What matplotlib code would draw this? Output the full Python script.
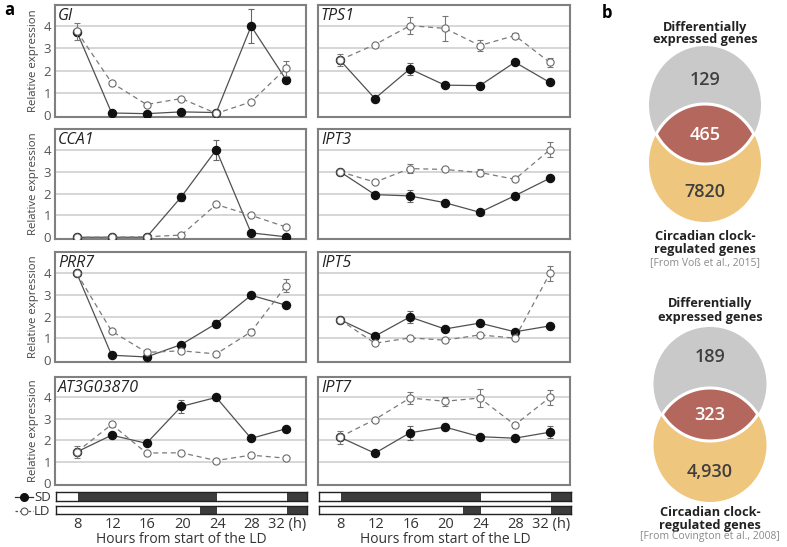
import numpy as np
import matplotlib
matplotlib.use('Agg')
import matplotlib.pyplot as plt
from matplotlib.patches import Ellipse, Polygon

plt.rcParams['font.family'] = ['Open Sans', 'DejaVu Sans']

hours = [8, 12, 16, 20, 24, 28, 32]
hour_labels = ['8', '12', '16', '20', '24', '28', '32 (h)']

# SD (filled) and LD (open) relative expression, with error bars
gi_sd = [3.75, 0.10, 0.07, 0.15, 0.12, 4.00, 1.60]
gi_sd_err = [0.05, 0.05, 0.05, 0.05, 0.05, 0.75, 0.10]
gi_ld = [3.77, 1.46, 0.48, 0.75, 0.08, 0.60, 2.10]
gi_ld_err = [0.38, 0.05, 0.05, 0.05, 0.05, 0.05, 0.35]

tps1_sd = [2.48, 0.75, 2.08, 1.35, 1.33, 2.38, 1.47]
tps1_sd_err = [0.05, 0.05, 0.28, 0.05, 0.05, 0.05, 0.08]
tps1_ld = [2.48, 3.17, 4.02, 3.90, 3.13, 3.58, 2.37]
tps1_ld_err = [0.27, 0.05, 0.38, 0.57, 0.26, 0.10, 0.22]

cca1_sd = [0.0, 0.0, 0.0, 1.85, 4.00, 0.20, 0.02]
cca1_sd_err = [0.02, 0.02, 0.02, 0.18, 0.45, 0.05, 0.03]
cca1_ld = [0.0, 0.0, 0.02, 0.10, 1.50, 1.00, 0.47]
cca1_ld_err = [0.02, 0.02, 0.02, 0.05, 0.10, 0.05, 0.06]

ipt3_sd = [3.00, 1.95, 1.89, 1.58, 1.14, 1.90, 2.70]
ipt3_sd_err = [0.05, 0.05, 0.27, 0.05, 0.05, 0.05, 0.05]
ipt3_ld = [3.00, 2.52, 3.14, 3.10, 2.96, 2.65, 4.00]
ipt3_ld_err = [0.12, 0.05, 0.20, 0.08, 0.15, 0.08, 0.35]

prr7_sd = [3.98, 0.23, 0.15, 0.72, 1.68, 2.97, 2.52]
prr7_sd_err = [0.05, 0.05, 0.05, 0.08, 0.15, 0.07, 0.05]
prr7_ld = [3.98, 1.33, 0.36, 0.43, 0.29, 1.30, 3.40]
prr7_ld_err = [0.05, 0.05, 0.05, 0.05, 0.05, 0.12, 0.30]

ipt5_sd = [1.86, 1.10, 1.98, 1.43, 1.70, 1.30, 1.57]
ipt5_sd_err = [0.05, 0.05, 0.26, 0.05, 0.05, 0.05, 0.05]
ipt5_ld = [1.86, 0.78, 1.02, 0.92, 1.16, 1.01, 3.97]
ipt5_ld_err = [0.06, 0.06, 0.06, 0.08, 0.08, 0.06, 0.33]

at3g_sd = [1.46, 2.24, 1.86, 3.58, 4.00, 2.09, 2.54]
at3g_sd_err = [0.05, 0.05, 0.05, 0.30, 0.05, 0.05, 0.05]
at3g_ld = [1.46, 2.74, 1.41, 1.42, 1.06, 1.31, 1.17]
at3g_ld_err = [0.27, 0.10, 0.05, 0.05, 0.05, 0.05, 0.05]

ipt7_sd = [2.15, 1.40, 2.35, 2.62, 2.17, 2.10, 2.38]
ipt7_sd_err = [0.05, 0.05, 0.32, 0.15, 0.05, 0.05, 0.28]
ipt7_ld = [2.15, 2.97, 3.97, 3.82, 3.97, 2.72, 4.00]
ipt7_ld_err = [0.30, 0.05, 0.28, 0.20, 0.42, 0.08, 0.36]

# light / dark schedule (dark intervals, hours)
sd_dark = [(8, 24), (32, 40)]
ld_dark = [(22, 24), (32, 40)]

# Venn counts
venn1_counts = [129, 465, 7820]
venn1_source = '[From Voß et al., 2015]'
venn2_counts = ['189', '323', '4,930']
venn2_source = '[From Covington et al., 2008]'

W, H = 787, 547
fig = plt.figure(figsize=(W / 100, H / 100), dpi=100)


def px_axes(x0, y0, x1, y1):
    return fig.add_axes([x0 / W, 1 - y1 / H, (x1 - x0) / W, (y1 - y0) / H])


panels = [
    ('GI', gi_sd, gi_sd_err, gi_ld, gi_ld_err, 0, 0),
    ('TPS1', tps1_sd, tps1_sd_err, tps1_ld, tps1_ld_err, 0, 1),
    ('CCA1', cca1_sd, cca1_sd_err, cca1_ld, cca1_ld_err, 1, 0),
    ('IPT3', ipt3_sd, ipt3_sd_err, ipt3_ld, ipt3_ld_err, 1, 1),
    ('PRR7', prr7_sd, prr7_sd_err, prr7_ld, prr7_ld_err, 2, 0),
    ('IPT5', ipt5_sd, ipt5_sd_err, ipt5_ld, ipt5_ld_err, 2, 1),
    ('AT3G03870', at3g_sd, at3g_sd_err, at3g_ld, at3g_ld_err, 3, 0),
    ('IPT7', ipt7_sd, ipt7_sd_err, ipt7_ld, ipt7_ld_err, 3, 1),
]
rows = [(5, 117), (129, 239), (252, 362), (377, 485)]
cols = [(55, 306), (318, 570)]
xlim = (5.5, 34.3)
box_col = '#808080'

for name, sd, sd_err, ld, ld_err, r, c in panels:
    ax = px_axes(cols[c][0], rows[r][0], cols[c][1], rows[r][1])
    ax.set_xlim(*xlim)
    ax.set_ylim(-0.08, 4.95)
    for y in [1, 2, 3, 4]:
        ax.axhline(y, color='#cccccc', lw=1.1, zorder=0)
    ax.errorbar(hours, sd, yerr=sd_err, color='#505050', lw=0.9, ecolor='#666666',
                elinewidth=0.8, capsize=2.5, capthick=0.8, marker='o', ms=5.8,
                mfc='#111111', mec='#111111', zorder=3)
    ax.errorbar(hours, ld, yerr=ld_err, color='#7a7a7a', lw=0.9, ls=(0, (4, 3)),
                ecolor='#777777', elinewidth=0.8, capsize=2.5, capthick=0.8,
                marker='o', ms=5.2, mfc='white', mec='#6a6a6a', mew=0.8, zorder=4)
    ax.text(0.012, 0.975, name, transform=ax.transAxes, ha='left', va='top',
            fontsize=11.5, style='italic', color='#222222')
    for s in ax.spines.values():
        s.set_color(box_col)
        s.set_linewidth(1.5)
    ax.set_xticks([])
    ax.tick_params(axis='y', length=0, pad=3, labelsize=9.5, labelcolor='#555555')
    if c == 0:
        ax.set_yticks([0, 1, 2, 3, 4])
        ax.set_ylabel('Relative expression', fontsize=8.2, color='#444444', labelpad=3)
    else:
        ax.set_yticks([])

# light/dark bars under each column
for c in range(2):
    for (y0, y1), dark, bottom in [((492, 501), sd_dark, False), ((506, 514), ld_dark, True)]:
        bx = px_axes(cols[c][0] + 1, y0, cols[c][1] + 1, y1)
        bx.set_xlim(*xlim)
        bx.set_ylim(0, 1)
        bx.broken_barh([(a, b - a) for a, b in dark], (0, 1), facecolors='#3c3c3c')
        bx.set_yticks([])
        for s in bx.spines.values():
            s.set_color('#222222')
            s.set_linewidth(1)
        if bottom:
            bx.set_xticks(hours)
            bx.set_xticklabels(hour_labels)
            bx.tick_params(axis='x', length=0, pad=2.5, labelsize=10.5, labelcolor='#333333')
            bx.set_xlabel('Hours from start of the LD', fontsize=10, color='#333333', labelpad=-0.5)
        else:
            bx.set_xticks([])

# overlay in pixel coordinates
ov = fig.add_axes([0, 0, 1, 1])
ov.set_xlim(0, W)
ov.set_ylim(H, 0)
ov.axis('off')

ov.text(4, 10, 'a', fontsize=12, fontweight='bold', ha='left', va='center')
ov.text(602, 13, 'b', fontsize=12, fontweight='bold', ha='left', va='center')

# SD / LD key
ov.plot([15, 33], [497, 497], color='#333333', lw=0.9)
ov.plot([24], [497], marker='o', ms=5.5, mfc='#111111', mec='#111111')
ov.text(34, 497.5, 'SD', fontsize=9.5, ha='left', va='center', color='#333333')
ov.plot([15, 33], [511, 511], color='#555555', lw=0.9, ls=(0, (2, 1.5)))
ov.plot([24], [511], marker='o', ms=5, mfc='white', mec='#555555', mew=0.8)
ov.text(34, 511.5, 'LD', fontsize=9.5, ha='left', va='center', color='#333333')


def venn(cx, cy1, cy2, a, b, counts, source, ty, ny, by):
    ov.add_patch(Ellipse((cx, cy1), 2 * a, 2 * b, facecolor='#c9c9c9', edgecolor='none'))
    ov.add_patch(Ellipse((cx, cy2), 2 * a, 2 * b, facecolor='#efc67e', edgecolor='none'))
    d = cy2 - cy1
    t0 = np.arcsin(d / 2 / b)
    t = np.linspace(t0, np.pi - t0, 80)
    lower = np.column_stack([cx + a * np.cos(t), cy1 + b * np.sin(t)])
    upper = np.column_stack([cx + a * np.cos(t[::-1]), cy2 - b * np.sin(t[::-1])])
    lens = np.vstack([lower, upper])
    ov.add_patch(Polygon(lens, closed=True, facecolor='#b4675d', edgecolor='white', lw=2.2))
    ov.text(cx, ty[0], 'Differentially', fontsize=9.2, fontweight='bold', ha='center', va='center', color='#222222')
    ov.text(cx, ty[1], 'expressed genes', fontsize=9.2, fontweight='bold', ha='center', va='center', color='#222222')
    ov.text(cx, ny[0], str(counts[0]), fontsize=13, fontweight='semibold', ha='center', va='center', color='#3f3f3f')
    ov.text(cx, ny[1], str(counts[1]), fontsize=13, fontweight='semibold', ha='center', va='center', color='white')
    ov.text(cx, ny[2], str(counts[2]), fontsize=13, fontweight='semibold', ha='center', va='center', color='#3f3f3f')
    ov.text(cx, by[0], 'Circadian clock-', fontsize=9.2, fontweight='bold', ha='center', va='center', color='#222222')
    ov.text(cx, by[1], 'regulated genes', fontsize=9.2, fontweight='bold', ha='center', va='center', color='#222222')
    ov.text(cx, by[2], source, fontsize=7.5, ha='center', va='center', color='#8a8a8a')


venn(705, 105, 163, 56, 59, venn1_counts, venn1_source, (27, 40), (80, 135, 192), (236, 250, 263))
venn(710, 384, 445, 56.5, 57, venn2_counts, venn2_source, (303, 317), (357, 415, 472), (512, 525, 537))

fig.savefig('out.png', dpi=100)
